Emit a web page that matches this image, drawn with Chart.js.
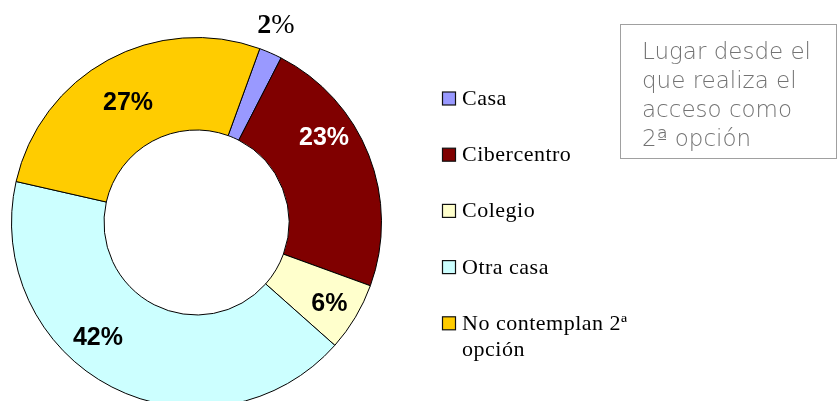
<!DOCTYPE html>
<html><head><meta charset="utf-8">
<script src="https://cdn.jsdelivr.net/npm/chart.js@4.4.1/dist/chart.umd.min.js"></script>
<style>
html,body{margin:0;padding:0;background:#fff;overflow:hidden;width:838px;height:401px;}
#wrap{position:absolute;left:0;top:0;width:838px;height:420px;}
</style></head>
<body>
<div id="wrap"><canvas id="c" width="838" height="420"></canvas></div>
<script>
const categories = ['Casa', 'Cibercentro', 'Colegio', 'Otra casa', 'No contemplan 2ª opción'];
const values = [2, 23, 6, 42, 27];
const valueLabels = ['2%', '23%', '6%', '42%', '27%'];
const colors = ['#9999FF', '#800000', '#FFFFCC', '#CCFFFF', '#FFCC00'];
const titleLines = ['Lugar desde el', 'que realiza el', 'acceso como', '2ª opción'];

// label placement inside each slice: [fraction of angle, fraction of ring thickness]
const labelPlace = [[0.28, 1.29], [0.35, 0.66], [0.52, 0.68], [0.59, 0.63], [0.49, 0.5]];
const labelColors = ['#000', '#fff', '#000', '#000', '#000'];

const overlay = {
  id: 'overlay',
  afterDatasetsDraw(chart) {
    const ctx = chart.ctx;
    const meta = chart.getDatasetMeta(0);
    ctx.save();
    meta.data.forEach((arc, i) => {
      const p = arc.getProps(['x','y','startAngle','endAngle','innerRadius','outerRadius'], true);
      const [fa, fr] = labelPlace[i];
      const a = p.startAngle + (p.endAngle - p.startAngle) * fa;
      const r = p.innerRadius + (p.outerRadius - p.innerRadius) * fr;
      const x = p.x + Math.cos(a) * r;
      const y = p.y + Math.sin(a) * r;
      ctx.fillStyle = labelColors[i];
      if (i === 0) {
        const num = valueLabels[i].replace('%', '');
        ctx.font = 'bold 28px "Liberation Serif"';
        const w1 = ctx.measureText(num).width;
        ctx.font = '28px "Liberation Serif"';
        const w2 = ctx.measureText('%').width;
        ctx.textBaseline = 'middle';
        ctx.textAlign = 'left';
        const x0 = x - (w1 + w2) / 2;
        ctx.font = 'bold 28px "Liberation Serif"';
        ctx.fillText(num, x0, y);
        ctx.font = '28px "Liberation Serif"';
        ctx.fillText('%', x0 + w1, y);
      } else {
        ctx.font = 'bold 25px "Liberation Sans"';
        ctx.textAlign = 'center';
        ctx.textBaseline = 'middle';
        ctx.fillText(valueLabels[i], x, y + 1);
      }
    });

    // legend
    ctx.textAlign = 'left';
    ctx.textBaseline = 'alphabetic';
    ctx.font = '22px "Liberation Serif"';
    ctx.letterSpacing = '0.5px';
    categories.forEach((c, i) => {
      const by = 105 + i * 56.2;
      ctx.fillStyle = colors[i];
      ctx.fillRect(442.5, by - 13, 13, 13);
      ctx.strokeStyle = '#111';
      ctx.lineWidth = 1.2;
      ctx.strokeRect(442.5, by - 13, 13, 13);
      ctx.fillStyle = '#000';
      if (c.length > 20) {
        const parts = c.split(' ');
        const last = parts.pop();
        ctx.fillText(parts.join(' '), 462, by);
        ctx.fillText(last, 462, by + 26);
      } else {
        ctx.fillText(c, 462, by);
      }
    });
    ctx.letterSpacing = '0px';

    // title box
    ctx.strokeStyle = '#a0a0a0';
    ctx.lineWidth = 1;
    ctx.strokeRect(620.5, 24.5, 216, 134);
    ctx.fillStyle = '#737373';
    ctx.font = '200 23px "DejaVu Sans"';
    titleLines.forEach((t, i) => ctx.fillText(t, 642, 59 + i * 29));
    ctx.restore();
  }
};

new Chart(document.getElementById('c'), {
  type: 'doughnut',
  data: {
    labels: categories,
    datasets: [{
      data: values,
      backgroundColor: colors,
      borderColor: '#000',
      borderWidth: 1,
      borderAlign: 'center'
    }]
  },
  options: {
    responsive: false,
    animation: false,
    rotation: 20,
    cutout: '50%',
    layout: { padding: { left: 10, right: 455, top: 37, bottom: 12 } },
    plugins: { legend: { display: false }, tooltip: { enabled: false } }
  },
  plugins: [overlay]
});
</script>
</body></html>
